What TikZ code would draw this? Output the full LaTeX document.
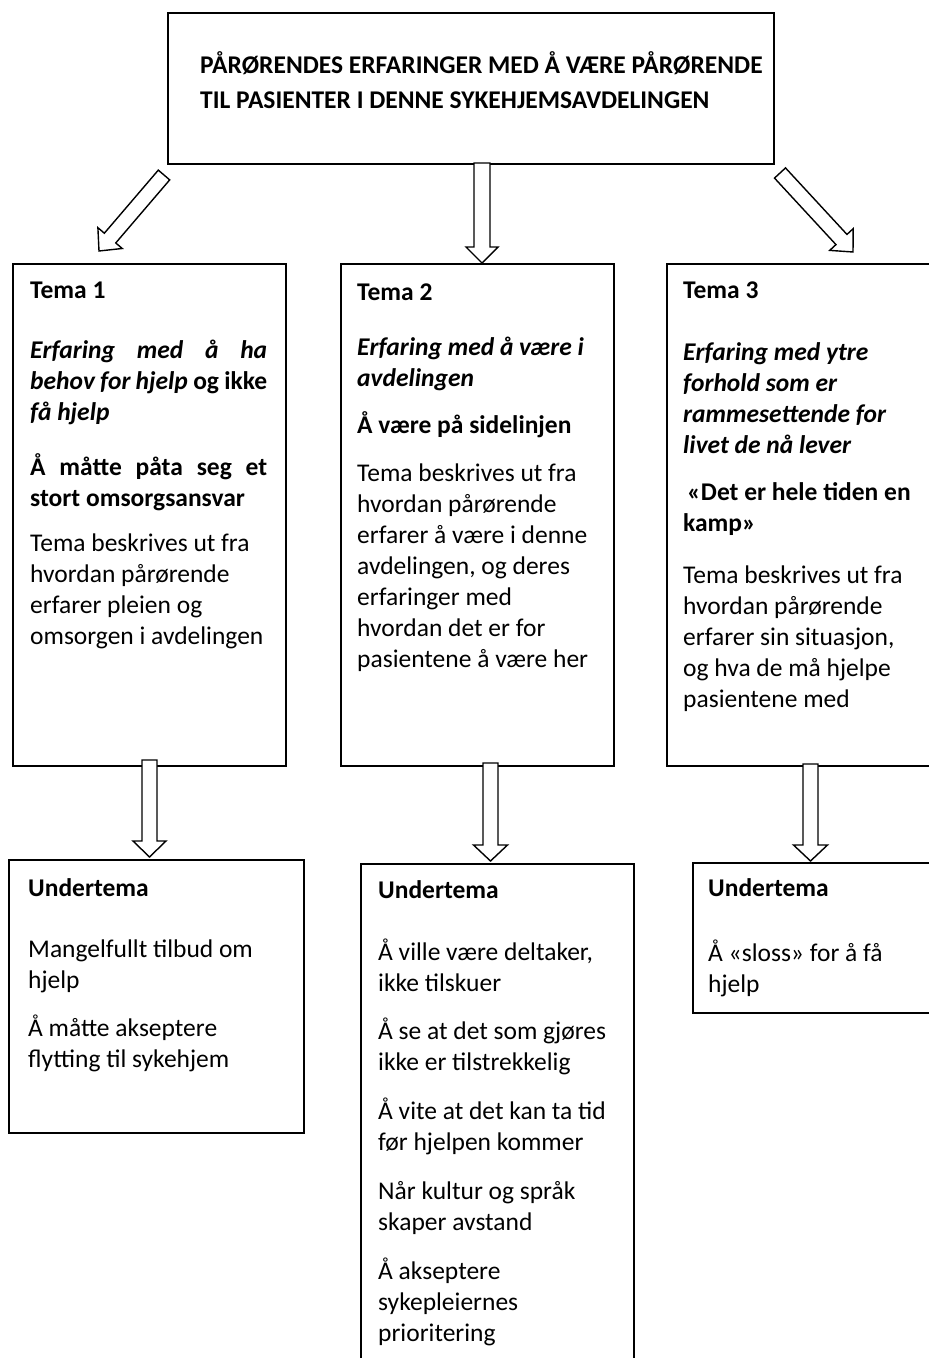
\documentclass[tikz,border=0pt]{standalone}
\usepackage{fontspec}
\setmainfont{Carlito}
\usetikzlibrary{calc}
\tikzset{
  box/.style={draw=black, line width=1.8pt, anchor=north west, inner sep=0pt},
  txt/.style={anchor=base west, inner sep=0pt, align=flush left, text width=#1,
    font=\fontsize{25.5}{31}\selectfont},
  barrow/.style={draw=black, fill=white, line width=1.4pt, line join=miter},
}
\newcommand\blockarr[5]{%
  \coordinate (ba-h) at ($(#2)!#5!(#1)$);
  \draw[barrow] ($(#1)!#3!90:(#2)$) -- ($(ba-h)!#3!90:(#2)$) -- ($(ba-h)!#4!90:(#2)$)
    -- (#2) -- ($(ba-h)!#4!-90:(#2)$) -- ($(ba-h)!#3!-90:(#2)$) -- ($(#1)!#3!-90:(#2)$) -- cycle;
}
\begin{document}
\begin{tikzpicture}[x=1pt,y=-1pt]
\useasboundingbox (0,0) rectangle (929,1358);
\clip (0,0) rectangle (929,1358);
\fill[white] (0,0) rectangle (929,1358);

% boxes
\node[box, minimum width=606pt, minimum height=151pt] (top) at (167,12) {};
\node[box, minimum width=273pt, minimum height=502pt] (t1) at (12,263) {};
\node[box, minimum width=273pt, minimum height=502pt] (t2) at (340,263) {};
\node[box, minimum width=300pt, minimum height=502pt] (t3) at (666,263) {};
\node[box, minimum width=295pt, minimum height=273pt] (u1) at (8,859) {};
\node[box, minimum width=273pt, minimum height=520pt] (u2) at (360,863) {};
\node[box, minimum width=280pt, minimum height=150pt] (u3) at (692,862) {};

% texts
\node[anchor=base west, inner sep=0pt, align=flush left, text width=590pt,
  font=\bfseries\fontsize{25.5}{35}\selectfont] (toptext) at (200,73)
  {PÅRØRENDES ERFARINGER MED Å VÆRE PÅRØRENDE\\TIL PASIENTER I DENNE SYKEHJEMSAVDELINGEN};

\node[txt=250pt] (t1text) at (30,298) {%
  \textbf{Tema 1}\\[29pt]
  \makebox[237pt][s]{\bfseries\itshape Erfaring med å ha}\\
  \makebox[237pt][s]{\bfseries\itshape behov for hjelp \upshape og ikke}\\
  {\bfseries\itshape få hjelp}\\[24pt]
  \makebox[237pt][s]{\bfseries Å måtte påta seg et}\\
  \textbf{stort omsorgsansvar}\\[14pt]
  Tema beskrives ut fra\\
  hvordan pårørende\\
  erfarer pleien og\\
  omsorgen i avdelingen};

\node[txt=250pt] (t2text) at (357,300) {%
  \textbf{Tema 2}\\[24pt]
  {\bfseries\itshape Erfaring med å være i}\\
  {\bfseries\itshape avdelingen}\\[16pt]
  \textbf{Å være på sidelinjen}\\[17pt]
  Tema beskrives ut fra\\
  hvordan pårørende\\
  erfarer å være i denne\\
  avdelingen, og deres\\
  erfaringer med\\
  hvordan det er for\\
  pasientene å være her};

\node[txt=250pt] (t3text) at (683,298) {%
  \textbf{Tema 3}\\[31pt]
  {\bfseries\itshape Erfaring med ytre}\\
  {\bfseries\itshape forhold som er}\\
  {\bfseries\itshape rammesettende for}\\
  {\bfseries\itshape livet de nå lever}\\[16pt]
  \hspace*{4pt}\textbf{«Det er hele tiden en}\\
  \textbf{kamp»}\\[21pt]
  Tema beskrives ut fra\\
  hvordan pårørende\\
  erfarer sin situasjon,\\
  og hva de må hjelpe\\
  pasientene med};

\node[txt=260pt] (u1text) at (28,896) {%
  \textbf{Undertema}\\[30pt]
  Mangelfullt tilbud om\\
  hjelp\\[17pt]
  Å måtte akseptere\\
  flytting til sykehjem};

\node[txt=250pt] (u2text) at (378,898) {%
  \textbf{Undertema}\\[31pt]
  Å ville være deltaker,\\
  ikke tilskuer\\[17pt]
  Å se at det som gjøres\\
  ikke er tilstrekkelig\\[18pt]
  Å vite at det kan ta tid\\
  før hjelpen kommer\\[18pt]
  Når kultur og språk\\
  skaper avstand\\[18pt]
  Å akseptere\\
  sykepleiernes\\
  prioritering};

\node[txt=220pt] (u3text) at (708,896) {%
  \textbf{Undertema}\\[34pt]
  Å «sloss» for å få\\
  hjelp};

% block arrows
\coordinate (a1s) at (164,175);  \coordinate (a1e) at (99,251);
\coordinate (a2s) at (482,163);  \coordinate (a2e) at (482,263);
\coordinate (a3s) at (780,173);  \coordinate (a3e) at (853,252);
\coordinate (b1s) at (149.5,760); \coordinate (b1e) at (149.5,857);
\coordinate (b2s) at (490.5,763); \coordinate (b2e) at (490.5,861);
\coordinate (b3s) at (810.5,764); \coordinate (b3e) at (810.5,861);
\blockarr{a1s}{a1e}{7.5pt}{16pt}{17pt}
\blockarr{a2s}{a2e}{8pt}{16pt}{16pt}
\blockarr{a3s}{a3e}{7.5pt}{16pt}{17pt}
\blockarr{b1s}{b1e}{7.5pt}{16.5pt}{16pt}
\blockarr{b2s}{b2e}{7.5pt}{17pt}{16pt}
\blockarr{b3s}{b3e}{7.5pt}{17pt}{16pt}
\end{tikzpicture}
\end{document}
